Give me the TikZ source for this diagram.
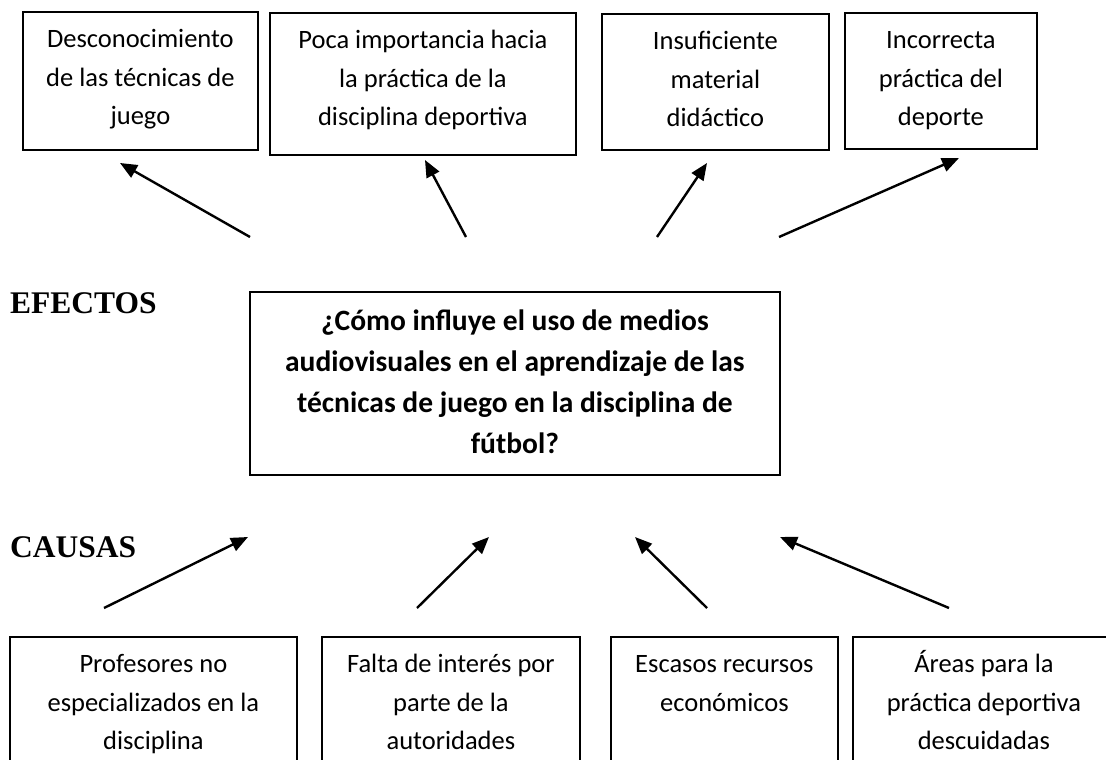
\documentclass[tikz,border=0pt]{standalone}
\usepackage{fontspec}
\setmainfont{Carlito}
\newfontfamily\titulofont{Liberation Serif}
\usepackage{tikz}
\usetikzlibrary{arrows.meta}
\usetikzlibrary{positioning}

% texto pegado arriba dentro de cada recuadro
\newcommand{\textocaja}[3]{\parbox[t][#2][t]{#1}{\centering\strut #3}}

\tikzset{
  caja/.style={draw, line width=1.8pt, anchor=north west, inner xsep=0pt, inner ysep=9pt,
    font=\fontsize{26.5}{38.5}\selectfont},
  pregunta/.style={caja, inner ysep=10pt, font=\fontsize{29.5}{41}\selectfont\bfseries},
  titulo/.style={anchor=base west, inner sep=0pt, font=\fontsize{31.5}{36}\selectfont\titulofont\bfseries},
  flecha/.style={line width=2.4pt, -{Triangle[length=17pt, width=14pt]}}
}

\begin{document}
\begin{tikzpicture}[x=1pt, y=-1pt]
      \useasboundingbox (0,0) rectangle (1106,760);
      \clip (0,0) rectangle (1106,760);

      % efectos
      \node[caja] (efecto1) at (22,11) {\textocaja{235pt}{120pt}{Desconocimiento\\de las técnicas de\\juego}};
      \node[caja] (efecto2) at (269,12) {\textocaja{306pt}{124pt}{Poca importancia hacia\\la práctica de la\\disciplina deportiva}};
      \node[caja] (efecto3) at (601,13) {\textocaja{227pt}{118pt}{Insuficiente\\material\\didáctico}};
      \node[caja] (efecto4) at (844,12) {\textocaja{192pt}{118pt}{Incorrecta\\práctica del\\deporte}};

      \node[titulo] (efectos) at (10,313) {EFECTOS};

      % problema
      \node[pregunta] (problema) at (249,291) {\textocaja{530pt}{163pt}{¿Cómo influye el uso de medios\\audiovisuales en el aprendizaje de las\\técnicas de juego en la disciplina de\\fútbol?}};

      \node[titulo] (causas) at (10,557) {CAUSAS};

      % causas
      \node[caja] (causa1) at (9,636) {\textocaja{287pt}{152pt}{Profesores no\\especializados en la\\disciplina}};
      \node[caja] (causa2) at (321,636) {\textocaja{258pt}{152pt}{Falta de interés por\\parte de la\\autoridades}};
      \node[caja] (causa3) at (610,636) {\textocaja{227pt}{152pt}{Escasos recursos\\económicos}};
      \node[caja] (causa4) at (852,636) {\textocaja{262pt}{152pt}{Áreas para la\\práctica deportiva\\descuidadas}};

      % flechas sueltas
      \coordinate (e1a) at (250,237);
      \coordinate (e1b) at (120,163);
      \coordinate (e2a) at (466,237);
      \coordinate (e2b) at (425,160);
      \coordinate (e3a) at (657,237);
      \coordinate (e3b) at (707,163);
      \coordinate (e4a) at (779,237);
      \coordinate (e4b) at (959,158);

      \coordinate (c1a) at (104,608);
      \coordinate (c1b) at (248,537);
      \coordinate (c2a) at (417,608);
      \coordinate (c2b) at (489,537);
      \coordinate (c3a) at (707,608);
      \coordinate (c3b) at (635,537);
      \coordinate (c4a) at (949,608);
      \coordinate (c4b) at (780,537);

      \draw[flecha] (e1a) -- (e1b);
      \draw[flecha] (e2a) -- (e2b);
      \draw[flecha] (e3a) -- (e3b);
      \draw[flecha] (e4a) -- (e4b);

      \draw[flecha] (c1a) -- (c1b);
      \draw[flecha] (c2a) -- (c2b);
      \draw[flecha] (c3a) -- (c3b);
      \draw[flecha] (c4a) -- (c4b);

    \end{tikzpicture}
\end{document}
